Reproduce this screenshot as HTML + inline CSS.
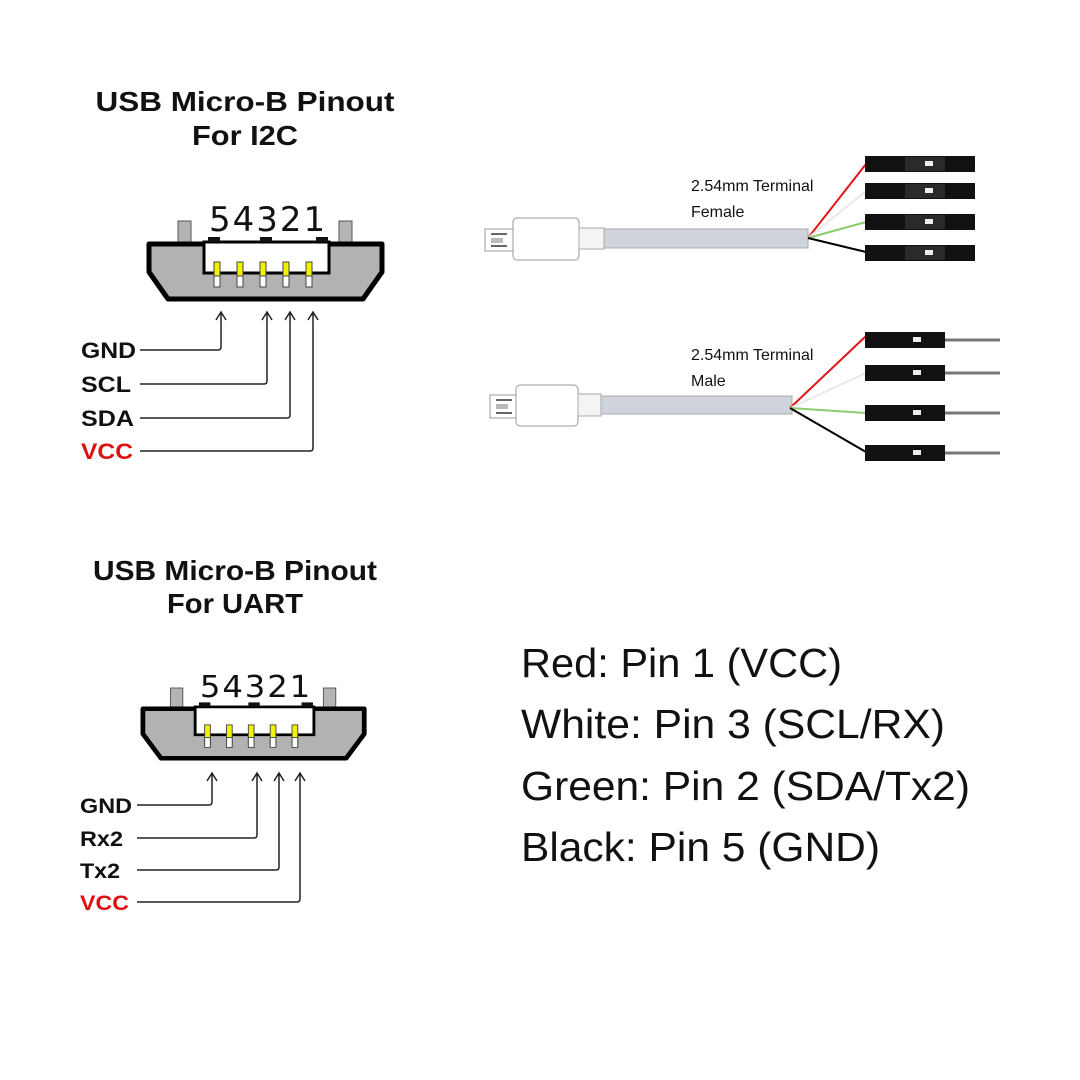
<!DOCTYPE html>
<html><head><meta charset="utf-8"><style>
body{margin:0;background:#fff}
svg{display:block}
.t{font-family:"Liberation Sans",Arial,sans-serif;font-weight:bold}
.r{font-family:"Liberation Sans",Arial,sans-serif}
</style></head><body>
<svg width="1080" height="1080" viewBox="0 0 1080 1080" xmlns="http://www.w3.org/2000/svg">
<defs>
<g id="conn">
  <rect x="31" y="-20" width="13" height="22" fill="#b4b4b4" stroke="#555" stroke-width="1"/>
  <rect x="192" y="-20" width="13" height="22" fill="#b4b4b4" stroke="#555" stroke-width="1"/>
  <path d="M2,3 L235,3 L235,31 L216,58 L21,58 L2,31 Z" fill="#b2b2b2" stroke="#000" stroke-width="5" stroke-linejoin="round"/>
  <rect x="57" y="1" width="125" height="31" fill="#fff" stroke="#000" stroke-width="3"/>
  <rect x="61" y="-4" width="12" height="5" fill="#111"/>
  <rect x="113" y="-4" width="12" height="5" fill="#111"/>
  <rect x="169" y="-4" width="12" height="5" fill="#111"/>
  <g stroke="#444" stroke-width="1">
    <rect x="67" y="21" width="6" height="21" fill="#f2f200"/><rect x="67" y="35" width="6" height="11" fill="#fff"/>
    <rect x="90" y="21" width="6" height="21" fill="#f2f200"/><rect x="90" y="35" width="6" height="11" fill="#fff"/>
    <rect x="113" y="21" width="6" height="21" fill="#f2f200"/><rect x="113" y="35" width="6" height="11" fill="#fff"/>
    <rect x="136" y="21" width="6" height="21" fill="#f2f200"/><rect x="136" y="35" width="6" height="11" fill="#fff"/>
    <rect x="159" y="21" width="6" height="21" fill="#f2f200"/><rect x="159" y="35" width="6" height="11" fill="#fff"/>
  </g>
  <text x="62" y="-10" font-family="DejaVu Sans, sans-serif" font-size="34" fill="#111" letter-spacing="2">54321</text>
</g>
<g id="fem">
  <rect x="0" y="0" width="110" height="16" fill="#111"/>
  <rect x="40" y="1" width="40" height="14" fill="#2a2a2a"/>
  <rect x="60" y="5" width="8" height="5" fill="#eee"/>
</g>
</defs>

<!-- I2C -->
<text class="t" x="245" y="111" font-size="28" text-anchor="middle" fill="#111" textLength="299" lengthAdjust="spacingAndGlyphs">USB Micro-B Pinout</text>
<text class="t" x="245" y="145" font-size="28" text-anchor="middle" fill="#111" textLength="106" lengthAdjust="spacingAndGlyphs">For I2C</text>
<use href="#conn" transform="translate(147,241)"/>
<g fill="none" stroke="#222" stroke-width="1.5">
  <path d="M140,350 H218 Q221,350 221,347 V312 M216,320 L221,312 L226,320"/>
  <path d="M140,384 H264 Q267,384 267,381 V312 M262,320 L267,312 L272,320"/>
  <path d="M140,418 H287 Q290,418 290,415 V312 M285,320 L290,312 L295,320"/>
  <path d="M140,451 H310 Q313,451 313,448 V312 M308,320 L313,312 L318,320"/>
</g>
<g class="t" font-size="22">
  <text x="81" y="358" fill="#111" textLength="55" lengthAdjust="spacingAndGlyphs">GND</text>
  <text x="81" y="392" fill="#111" textLength="50" lengthAdjust="spacingAndGlyphs">SCL</text>
  <text x="81" y="426" fill="#111" textLength="53" lengthAdjust="spacingAndGlyphs">SDA</text>
  <text x="81" y="459" fill="#e01010" textLength="52" lengthAdjust="spacingAndGlyphs">VCC</text>
</g>

<!-- UART -->
<text class="t" x="235" y="580" font-size="28" text-anchor="middle" fill="#111" textLength="284" lengthAdjust="spacingAndGlyphs">USB Micro-B Pinout</text>
<text class="t" x="235" y="613" font-size="28" text-anchor="middle" fill="#111" textLength="136" lengthAdjust="spacingAndGlyphs">For UART</text>
<use href="#conn" transform="translate(141,706) scale(0.95,0.9)"/>
<g fill="none" stroke="#222" stroke-width="1.5">
  <path d="M137,805 H209 Q212,805 212,802 V773 M207,781 L212,773 L217,781"/>
  <path d="M137,838 H254 Q257,838 257,835 V773 M252,781 L257,773 L262,781"/>
  <path d="M137,870 H276 Q279,870 279,867 V773 M274,781 L279,773 L284,781"/>
  <path d="M137,902 H297 Q300,902 300,899 V773 M295,781 L300,773 L305,781"/>
</g>
<g class="t" font-size="21">
  <text x="80" y="813" fill="#111" textLength="52" lengthAdjust="spacingAndGlyphs">GND</text>
  <text x="80" y="846" fill="#111" textLength="43" lengthAdjust="spacingAndGlyphs">Rx2</text>
  <text x="80" y="878" fill="#111" textLength="40" lengthAdjust="spacingAndGlyphs">Tx2</text>
  <text x="80" y="910" fill="#e01010" textLength="49" lengthAdjust="spacingAndGlyphs">VCC</text>
</g>

<!-- Female cable -->
<rect x="485" y="229" width="32" height="22" fill="#fff" stroke="#999"/>
<rect x="491" y="233" width="16" height="2" fill="#666"/><rect x="491" y="245" width="16" height="2" fill="#666"/>
<rect x="491" y="238" width="12" height="5" fill="#bbb"/>
<rect x="513" y="218" width="66" height="42" rx="4" fill="#fff" stroke="#999"/>
<rect x="579" y="228" width="25" height="21" fill="#f4f4f4" stroke="#aaa"/>
<rect x="604" y="229" width="204" height="19" fill="#cfd4dc" stroke="#aaa"/>
<g stroke-width="2" fill="none">
  <line x1="808" y1="238" x2="866" y2="164" stroke="#e01515"/>
  <line x1="808" y1="238" x2="866" y2="191" stroke="#e8e8e8"/>
  <line x1="808" y1="238" x2="866" y2="222" stroke="#8ccc6c"/>
  <line x1="808" y1="238" x2="866" y2="252" stroke="#000"/>
</g>
<use href="#fem" transform="translate(865,156)"/>
<use href="#fem" transform="translate(865,183)"/>
<use href="#fem" transform="translate(865,214)"/>
<use href="#fem" transform="translate(865,245)"/>
<text class="r" x="691" y="191" font-size="16" fill="#111">2.54mm Terminal</text>
<text class="r" x="691" y="217" font-size="16" fill="#111">Female</text>

<!-- Male cable -->
<rect x="490" y="395" width="30" height="23" fill="#fff" stroke="#999"/>
<rect x="496" y="399" width="16" height="2" fill="#666"/><rect x="496" y="412" width="16" height="2" fill="#666"/>
<rect x="496" y="404" width="12" height="5" fill="#bbb"/>
<rect x="516" y="385" width="62" height="41" rx="4" fill="#fff" stroke="#999"/>
<rect x="578" y="394" width="23" height="22" fill="#f4f4f4" stroke="#aaa"/>
<rect x="601" y="396" width="191" height="18" fill="#cfd4dc" stroke="#aaa"/>
<g stroke-width="2" fill="none">
  <line x1="790" y1="408" x2="866" y2="336" stroke="#e01515"/>
  <line x1="790" y1="408" x2="866" y2="373" stroke="#e8e8e8"/>
  <line x1="790" y1="408" x2="866" y2="413" stroke="#8ccc6c"/>
  <line x1="790" y1="408" x2="866" y2="452" stroke="#000"/>
</g>
<g stroke="#777" stroke-width="3">
  <line x1="940" y1="340" x2="1000" y2="340"/>
  <line x1="940" y1="373" x2="1000" y2="373"/>
  <line x1="940" y1="413" x2="1000" y2="413"/>
  <line x1="940" y1="453" x2="1000" y2="453"/>
</g>
<g>
  <rect x="865" y="332" width="80" height="16" fill="#111"/><rect x="913" y="337" width="8" height="5" fill="#eee"/>
  <rect x="865" y="365" width="80" height="16" fill="#111"/><rect x="913" y="370" width="8" height="5" fill="#eee"/>
  <rect x="865" y="405" width="80" height="16" fill="#111"/><rect x="913" y="410" width="8" height="5" fill="#eee"/>
  <rect x="865" y="445" width="80" height="16" fill="#111"/><rect x="913" y="450" width="8" height="5" fill="#eee"/>
</g>
<text class="r" x="691" y="360" font-size="16" fill="#111">2.54mm Terminal</text>
<text class="r" x="691" y="386" font-size="16" fill="#111">Male</text>

<!-- legend -->
<g class="r" font-size="41" fill="#111">
  <text x="521" y="677" textLength="321" lengthAdjust="spacingAndGlyphs">Red: Pin 1 (VCC)</text>
  <text x="521" y="738" textLength="424" lengthAdjust="spacingAndGlyphs">White: Pin 3 (SCL/RX)</text>
  <text x="521" y="800" textLength="449" lengthAdjust="spacingAndGlyphs">Green: Pin 2 (SDA/Tx2)</text>
  <text x="521" y="861" textLength="359" lengthAdjust="spacingAndGlyphs">Black: Pin 5 (GND)</text>
</g>
</svg>
</body></html>
